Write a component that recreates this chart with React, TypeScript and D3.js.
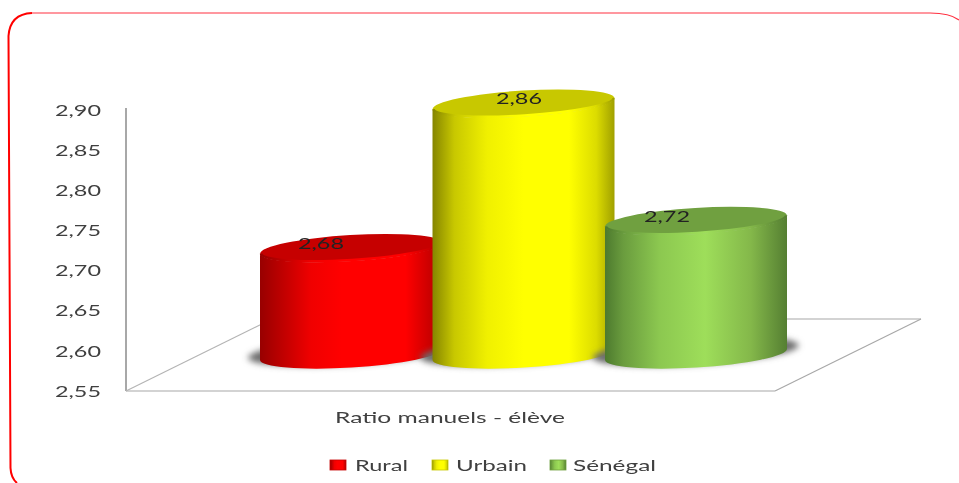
import React from "react";
import * as d3 from "d3";

const categories = ["Rural", "Urbain", "Sénégal"];
const values = [2.68, 2.86, 2.72];
const valueLabels = ["2,68", "2,86", "2,72"];
const yTicks = [2.55, 2.6, 2.65, 2.7, 2.75, 2.8, 2.85, 2.9];
const axisTitle = "Ratio manuels - élève";

const sideStops = [
  [["0%", "#980000"], ["28%", "#f00000"], ["45%", "#ff0000"], ["80%", "#ff0000"], ["100%", "#b00000"]],
  [["0%", "#858500"], ["12%", "#c8c800"], ["30%", "#f0f000"], ["50%", "#ffff00"], ["75%", "#ffff00"], ["90%", "#dcdc00"], ["100%", "#a0a000"]],
  [["0%", "#4d7a2e"], ["10%", "#6a9c3e"], ["30%", "#8cc850"], ["55%", "#9ede5a"], ["80%", "#84b84a"], ["100%", "#557f32"]],
];
const topFills = ["#c60000", "#c8c800", "#70a040"];
const legendX = [330, 432, 550];
const legendTextX = [355, 456, 573];
const legendTextW = [53, 71, 83];
const labelX = [321, 519, 667];
const topNudge = [0, 0, 5];

const W = 959;
const H = 483;
const y = d3.scaleLinear().domain([2.55, 2.9]).range([391, 110]);
const x = d3.scalePoint<string>().domain(categories).range([351, 696]);
const RX = 91;
const RY = 13;
const TILT = -3.5;
const DEPTH = 38.6;
const BASE = 354.5;
const SLOPE = Math.sin((TILT * Math.PI) / 180) * RX;

function cylinder(cx: number, top: number) {
  const p = d3.path();
  const lx = cx - RX;
  const rx = cx + RX;
  p.moveTo(lx, top - SLOPE);
  p.lineTo(lx, BASE - SLOPE);
  const bottom = `A${RX} ${RY} ${TILT} 0 0 ${rx} ${BASE + SLOPE}`;
  const topArc = `A${RX} ${RY} ${TILT} 0 1 ${lx} ${top - SLOPE}`;
  return `${p.toString()}${bottom}L${rx} ${top + SLOPE}${topArc}Z`;
}
function frontArc(cx: number, top: number) {
  return `M${cx - RX + 1} ${top - SLOPE}A${RX - 1} ${RY - 1} ${TILT} 0 0 ${cx + RX - 1} ${top + SLOPE}`;
}

const textStyle = { fontFamily: "Lato, 'Open Sans', sans-serif", fill: "#3f3f3f" };

export default function App() {
  return (
    <svg width={W} height={H} viewBox={`0 0 ${W} ${H}`} style={{ position: "fixed", left: 0, top: 0, display: "block", background: "#fff" }}>
      <defs>
        <filter id="soft" x="-5%" y="-5%" width="110%" height="110%"><feGaussianBlur stdDeviation="0.4" /></filter>
        <filter id="shadow" x="-20%" y="-60%" width="140%" height="220%"><feGaussianBlur stdDeviation="3" /></filter>
        {sideStops.map((stops, i) => (
          <linearGradient key={i} id={`side${i}`} x1="0" x2="1" y1="0" y2="0">
            {stops.map(([o, c]) => <stop key={o} offset={o} stopColor={c} />)}
          </linearGradient>
        ))}
      </defs>

      <path d="M32 13 H930 Q950 13 959 20" fill="none" stroke="#ff3040" strokeWidth={1.1} />
      <path d="M32 13 Q10 14 8.5 36 L10.5 468 Q11 478 17 483" fill="none" stroke="#ff0000" strokeWidth={2} />

      <g fill="none" filter="url(#soft)">
        <path d={`M126 108V${y(2.55)}`} stroke="#a8a8a8" strokeWidth={2} />
        <path d={`M126 ${y(2.55)}H775`} stroke="#c4c4c4" strokeWidth={1.5} />
        <path d={`M126 ${y(2.55)}L272 319`} stroke="#b4b4b4" strokeWidth={1.2} />
        <path d={`M775 ${y(2.55)}L921 319`} stroke="#a8a8a8" strokeWidth={1.2} />
        <path d="M272 319H921" stroke="#a8a8a8" strokeWidth={1.2} />
      </g>

      <g filter="url(#soft)">
        {yTicks.map((t) => (
          <text key={t} x={101} y={y(t)} dy="0.36em" textAnchor="end" fontSize={16} textLength={46} lengthAdjust="spacingAndGlyphs" style={textStyle}>
            {d3.format(".2f")(t).replace(".", ",")}
          </text>
        ))}
      </g>

      {categories.map((c, i) => {
        const cx = x(c) as number;
        const top = y(values[i]) - DEPTH + topNudge[i];
        return (
          <g key={c}>
            <ellipse cx={cx} cy={BASE - 3} rx={RX + 12} ry={RY} fill="#6a6a6a" filter="url(#shadow)" transform={`rotate(${TILT} ${cx} ${BASE})`} />
            <path d={cylinder(cx, top)} fill={`url(#side${i})`} />
            <ellipse cx={cx} cy={top} rx={RX} ry={RY} fill={topFills[i]} transform={`rotate(${TILT} ${cx} ${top})`} />
            <path d={frontArc(cx, top)} fill="none" stroke={`url(#side${i})`} strokeWidth={2.5} />
          </g>
        );
      })}

      <g filter="url(#soft)">
        {categories.map((c, i) => (
          <text key={c} x={labelX[i]} y={y(values[i]) - DEPTH + topNudge[i] - 1} dy="0.1em" textAnchor="middle" fontSize={16} textLength={46} lengthAdjust="spacingAndGlyphs" style={{ ...textStyle, fill: "#222" }}>
            {valueLabels[i]}
          </text>
        ))}
        <text x={335} y={423} fontSize={16} textLength={230} lengthAdjust="spacingAndGlyphs" style={textStyle}>{axisTitle}</text>
        {categories.map((c, i) => (
          <g key={c}>
            <rect x={legendX[i]} y={460} width={16} height={10} fill={`url(#side${i})`} stroke={topFills[i]} strokeWidth={0.8} />
            <text x={legendTextX[i]} y={471} fontSize={16} textLength={legendTextW[i]} lengthAdjust="spacingAndGlyphs" style={textStyle}>{c}</text>
          </g>
        ))}
      </g>
    </svg>
  );
}
